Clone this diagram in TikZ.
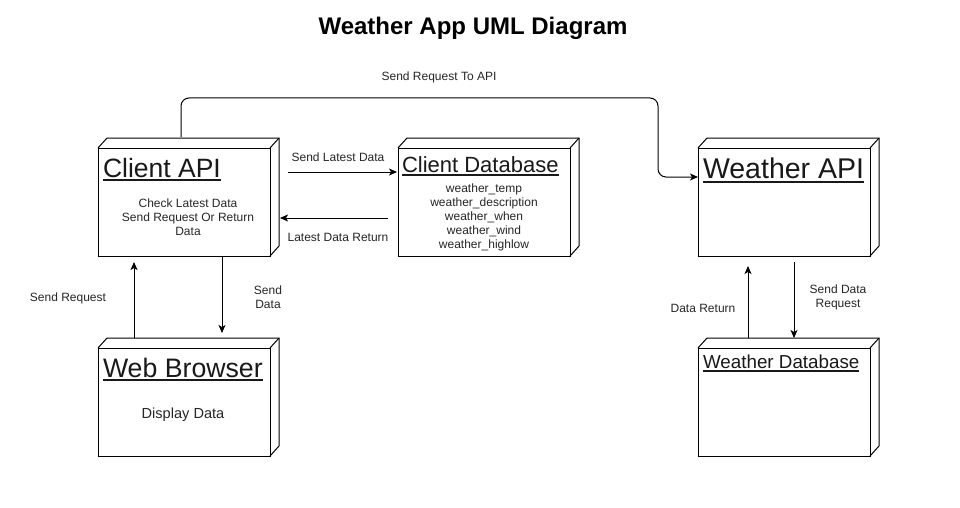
\documentclass[tikz,border=0pt]{standalone}
\usepackage{fontspec}
\setmainfont{Liberation Sans}
\usetikzlibrary{arrows.meta,calc}
\begin{document}
\begin{tikzpicture}[x=1pt,y=-1pt,
  box/.style={draw, line width=1pt, minimum width=172pt, minimum height=108pt, inner sep=0pt, outer sep=0pt, fill=white},
  face/.style={draw, line width=1pt, line join=miter},
  ttl/.style={anchor=base west, inner sep=0pt, outer sep=0pt, text=black!90},
  ul/.style={line width=#1, draw=black!90},
  lbl/.style={font=\fontsize{12}{14}\selectfont, align=center, inner sep=0pt, text=black!85},
  body/.style={font=\fontsize{12}{14}\selectfont, align=center, inner sep=0pt, text=black!85},
  arr/.style={draw, line width=1pt, -{Stealth[length=8pt,width=7pt,inset=2pt]}}
]
\useasboundingbox[fill=white] (0,0) rectangle (960,508);

\node[font=\bfseries\fontsize{24}{28}\selectfont, inner sep=0pt] (title) at (473,28) {Weather App UML Diagram};

% boxes
\node[box] (capi) at (184,202) {};
\node[box] (cdb)  at (484,202) {};
\node[box] (wapi) at (784,202) {};
\node[box] (wb)   at (184,402) {};
\node[box] (wdb)  at (784,402) {};

\foreach \n in {capi,cdb,wapi,wb,wdb}{
  \draw[face] (\n.north west) -- ++(9,-10) -- ($(\n.north east)+(9,-10)$) -- ($(\n.south east)+(9,-10)$) -- (\n.south east);
  \draw[face] (\n.north east) -- ++(9,-10);
}

% titles
\node[ttl, font=\fontsize{26.5}{30}\selectfont] (tcapi) at (103,177) {Client API};
\draw[ul=1.8pt] ([yshift=-3pt]tcapi.base west) -- ([yshift=-3pt]tcapi.base east);
\node[ttl, font=\fontsize{22}{26}\selectfont] (tcdb) at (402,172) {Client Database};
\draw[ul=1.6pt] ([yshift=-3pt]tcdb.base west) -- ([yshift=-3pt]tcdb.base east);
\node[ttl, font=\fontsize{28.5}{32}\selectfont] (twapi) at (703,178) {Weather API};
\draw[ul=2pt] ([yshift=-4pt]twapi.base west) -- ([yshift=-4pt]twapi.base east);
\node[ttl, font=\fontsize{26.7}{30}\selectfont] (twb) at (103,377) {Web Browser};
\draw[ul=1.8pt] ([yshift=-3pt]twb.base west) -- ([yshift=-3pt]twb.base east);
\node[ttl, font=\fontsize{18.8}{22}\selectfont] (twdb) at (703,368) {Weather Database};
\draw[ul=1.3pt] ([yshift=-3pt]twdb.base west) -- ([yshift=-3pt]twdb.base east);

% bodies
\node[body] (bcapi) at (188,217) {Check Latest Data\\Send Request Or Return\\Data};
\node[body] (bcdb) at (484,217) {weather\_temp\\weather\_description\\weather\_when\\weather\_wind\\weather\_highlow};
\node[body, font=\fontsize{14.6}{17}\selectfont] (bwb) at (183,415) {Display Data};

% connectors
\draw[arr, rounded corners=8pt] ($(capi.north west)+(83,-11)$) |- ($(wapi.north west)+(-40,-50)$) |- ($(wapi.north west)+(0,29)$);
\node[lbl] (l1) at (439,77) {Send Request To API};

\draw[arr] ($(capi.north east)+(18,24)$) -- ($(cdb.north west)+(-1,24)$);
\node[lbl] (l2) at (338,157) {Send Latest Data};

\draw[arr] ($(cdb.north west)+(-10,70)$) -- ($(capi.north east)+(10,70)$);
\node[lbl] (l3) at (338,237) {Latest Data Return};

\draw[arr] ($(wb.north west)+(36,-10)$) -- ($(capi.south west)+(36,6)$);
\node[lbl] (l4) at (68,298) {Send Request};

\draw[arr] ($(capi.south west)+(124,0)$) -- ($(wb.north west)+(124,-15)$);
\node[lbl] (l5) at (268,297) {Send\\Data};

\draw[arr] ($(wdb.north west)+(50,-10)$) -- ($(wapi.south west)+(50,10)$);
\node[lbl] (l6) at (703,308) {Data Return};

\draw[arr] ($(wapi.south west)+(96,6)$) -- ($(wdb.north west)+(96,-10)$);
\node[lbl] (l7) at (838,297) {Send Data\\Request};
\end{tikzpicture}
\end{document}
